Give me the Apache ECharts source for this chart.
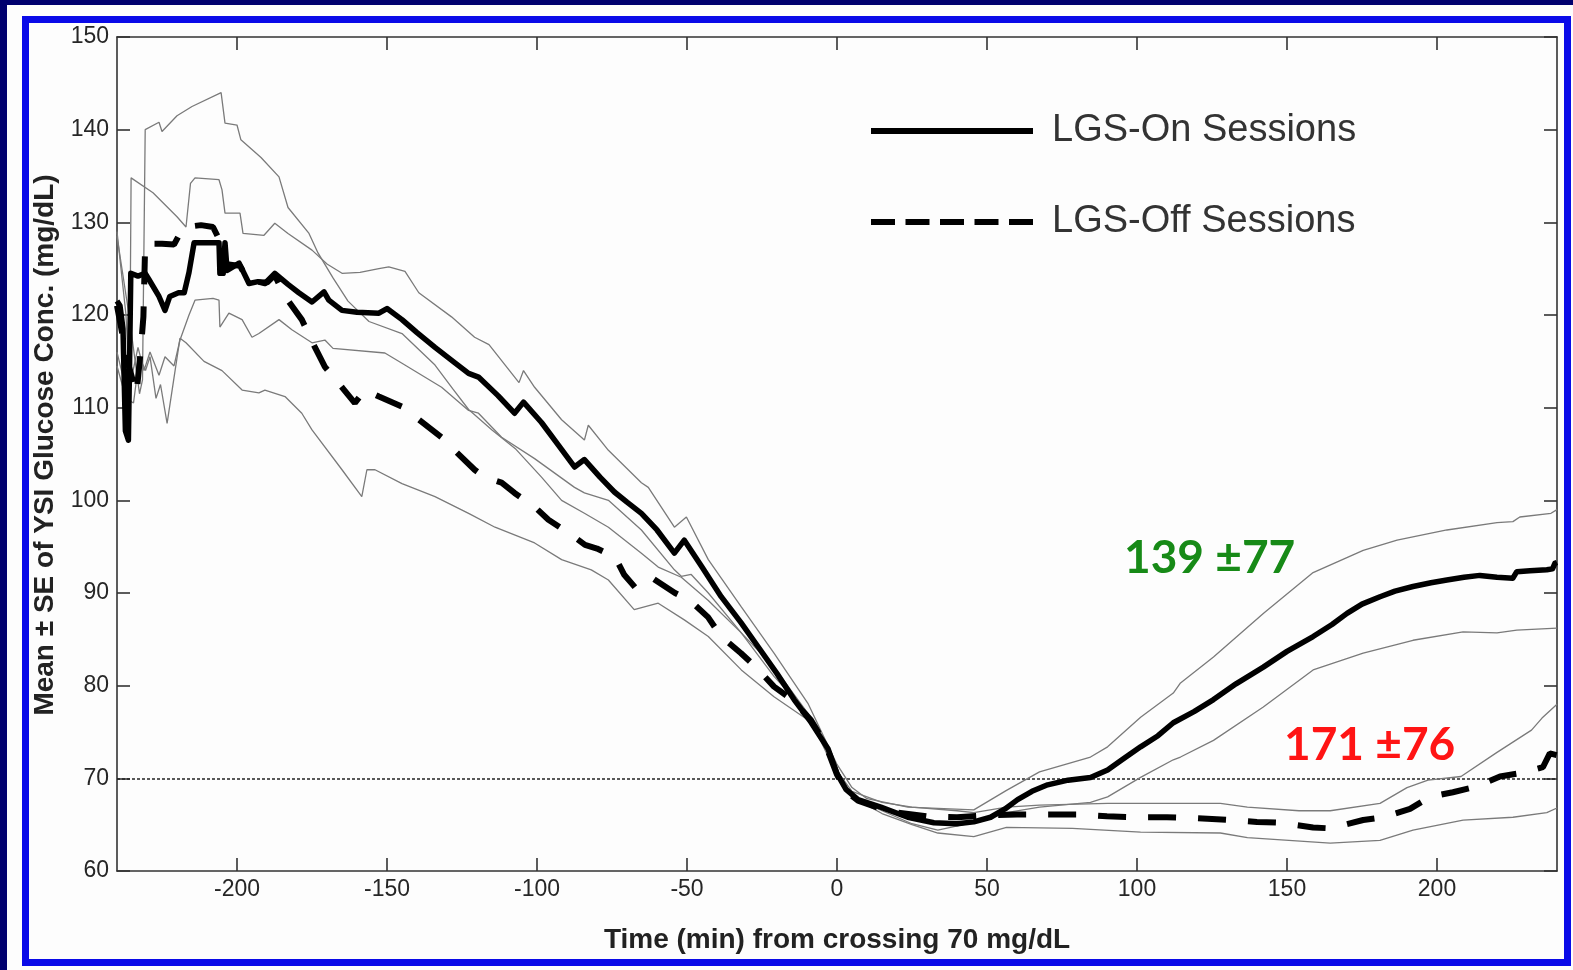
<!DOCTYPE html>
<html>
<head>
<meta charset="utf-8">
<script src="https://cdn.jsdelivr.net/npm/echarts@6/dist/echarts.min.js"></script>
<style>
  html,body{margin:0;padding:0;width:1573px;height:970px;overflow:hidden;background:#00006e;}
  #paper{position:absolute;left:7px;top:5px;right:0;bottom:0;background:#fdfdfd;}
  #frame{position:absolute;left:22px;top:16px;width:1549px;height:950px;box-sizing:border-box;border:7px solid #0a0ae8;}
  #chart{position:absolute;left:0;top:0;width:1573px;height:970px;}
</style>
</head>
<body>
<div id="paper"></div>
<div id="frame"></div>
<div id="chart"></div>
<script>
// ---------- data (time in min, glucose in mg/dL) ----------
const xTickValues = [-200, -150, -100, -50, 0, 50, 100, 150, 200];
const yTickValues = [60, 70, 80, 90, 100, 110, 120, 130, 140, 150];
const seriesNames = ['LGS-On Sessions', 'LGS-Off Sessions'];
const thresholdValue = 70;
const annotationOn = '139 ±77';
const annotationOff = '171 ±76';

const onMean = [
[-240,121.5],[-239,121],[-238,118.5],[-237.2,107.5],[-236.2,106.5],[-235.8,115],[-235.4,124.5],[-233,124.2],[-230.6,124.5],[-229.3,123.8],[-226,122],[-224,120.5],[-222.4,122],[-219.5,122.4],[-217.6,122.4],[-216,124.6],[-214.3,127.8],[-208.3,127.8],[-206,127.8],[-205.7,124.5],[-204.6,124.5],[-204,127.8],[-203.3,124.8],[-199.3,125.6],[-196,123.4],[-193,123.6],[-190.7,123.4],[-187.4,124.5],[-183,123.3],[-179.4,122.4],[-175,121.4],[-171,122.5],[-169.4,121.6],[-165,120.5],[-160,120.3],[-152.7,120.2],[-150,120.7],[-145,119.5],[-140,118.1],[-134,116.5],[-128,115],[-122.8,113.7],[-119.5,113.3],[-113,111.3],[-107.5,109.4],[-104.5,110.6],[-98.5,108.4],[-93,106],[-87.5,103.6],[-84.2,104.4],[-79,102.5],[-74.2,100.9],[-70,99.8],[-65.2,98.6],[-60,96.8],[-54.2,94.3],[-50.9,95.7],[-45,92.8],[-38.6,89.6],[-32,86.8],[-26.3,84.2],[-20,81.3],[-14.3,78.5],[-9,76.2],[-3,73.2],[0,70.5],[3,68.8],[7,67.7],[14.6,66.9],[23.6,65.8],[32.3,65.2],[40,65.1],[45.6,65.3],[51.2,65.8],[56,66.7],[60.2,67.7],[65,68.6],[70.2,69.3],[77,69.8],[84.5,70.1],[90.2,70.9],[95,72],[101.2,73.4],[107,74.6],[112.1,76],[119,77.2],[125.5,78.5],[133,80.2],[142.1,82],[150,83.7],[158.7,85.3],[165,86.6],[170,87.8],[175,88.8],[181,89.6],[186,90.2],[192,90.7],[198,91.1],[203.3,91.4],[209,91.7],[214.3,91.9],[220,91.7],[225.3,91.6],[226.6,92.3],[231,92.4],[236.6,92.5],[238.5,92.6],[239.3,93.2],[240,93.3]
];

const offMean = [
[-240,121],[-236.5,115],[-233.5,111.5],[-232,116.5],[-231.2,119.8],[-230.6,127.7],[-225,127.7],[-221,127.6],[-219.5,128.5],[-217,129.5],[-212,129.7],[-208,129.5],[-206,128.2],[-204,125.5],[-199,125.3],[-196,123.6],[-190,123.5],[-187.4,124.3],[-184,122],[-178.4,119.5],[-174,116.5],[-170.7,114.4],[-165,112.2],[-160.7,110.5],[-157.4,111.9],[-152.7,111.2],[-145,110.1],[-139.4,108.7],[-131.8,106.8],[-127.5,105.4],[-120.8,103.3],[-117.5,102.5],[-111.8,101.9],[-107.5,100.8],[-100.8,99.3],[-96.2,97.9],[-89.5,96.5],[-84,95.2],[-80,94.8],[-74,93.9],[-71,92],[-67,90.5],[-61,91.5],[-54,90],[-49,89.2],[-43,87.4],[-38.6,85.3],[-32,83.5],[-27,82],[-21,79.9],[-15,78.5],[-8.7,76.3],[-4,73.8],[0,70.4],[3,68.6],[7,67.6],[14,66.8],[20,66.3],[30,65.9],[40,65.8],[50,66],[60,66.1],[70,66.1],[80,66.1],[90,65.9],[100,65.8],[110,65.8],[120,65.7],[131,65.5],[140,65.3],[148,65.2],[158.7,64.7],[164.4,64.6],[175.4,65.5],[182,65.8],[191,66.7],[197.7,68],[205.3,68.5],[213,69.1],[221,70.2],[228.6,70.6],[235.3,71.2],[237.6,72.7],[240,72.5]
];

const onUpper = [
[-240,129],[-237,120],[-235.8,112],[-235.3,134.8],[-228,133.2],[-220,130.6],[-217,129.5],[-215.5,134.2],[-214,134.8],[-206,134.6],[-205,133.5],[-204,131],[-199,131],[-198,128.8],[-191,128.6],[-187.4,129.9],[-183,128.8],[-175,127],[-170,125.5],[-165,124.5],[-159,124.6],[-152.7,125],[-149.4,125.2],[-144,124.7],[-139.4,122.4],[-128.5,119.8],[-120.8,117.6],[-116,116.8],[-106,112.7],[-104.5,114],[-100.8,112.2],[-91.8,108.7],[-84.2,106.5],[-82.9,108.1],[-76.2,105.4],[-65.2,101.9],[-62.9,101.4],[-54.2,97.1],[-50.2,98.2],[-42.9,93.6],[-31.9,88.5],[-21,83.5],[-9.7,78.1],[0,71.5],[5,69],[10,67.8],[23.6,66.9],[45.6,66.6],[56.5,68.7],[67.5,70.7],[84.5,72.3],[90.2,73.4],[101.2,76.6],[112.1,79.2],[114.5,80.3],[125.5,83.1],[142.1,87.8],[158.7,92.2],[175.4,94.6],[186.7,95.7],[203.3,96.8],[220,97.6],[225.3,97.7],[227.6,98.2],[238,98.6],[240,99]
];

const onLower = [
[-240,116],[-237,112],[-236,110.5],[-235.3,113],[-233,116.5],[-231,114],[-229,116],[-226,113.5],[-224,115.5],[-221,114.5],[-219,117.3],[-216,120],[-214,121.6],[-208,121.8],[-206,121.6],[-205.7,118.7],[-202.7,120.2],[-198.3,119.5],[-195,117.6],[-192.7,118],[-186,119.5],[-181.7,118.4],[-175,117],[-170.7,117.3],[-168,116.4],[-150.7,115.9],[-145,114.8],[-131.8,112.2],[-122.8,109.7],[-119.5,109.4],[-111.8,106.8],[-100.8,104.5],[-87.5,101.4],[-84.2,100.8],[-76.2,100],[-65.2,96.8],[-54.2,92.5],[-51.9,91.8],[-48.6,92],[-42.9,90],[-31.9,85.7],[-21,82],[-9.7,77],[0,70.3],[5,68],[15,66.5],[25,65.1],[33.6,64.4],[49,65.5],[56.5,66.3],[67.5,66.9],[84.5,67.4],[90.2,68],[101.2,70.1],[112.1,72],[114.5,72.3],[125.5,74.1],[142.1,77.7],[158.7,81.7],[175.4,83.5],[192,84.9],[208.7,85.8],[220,85.7],[226.6,86],[240,86.2]
];

const offUpper = [
[-240,128.5],[-236,120],[-232.5,111.5],[-231.5,113],[-230.6,140],[-226,140.8],[-225,139.8],[-220,141.5],[-215,142.5],[-205.3,144],[-204,140.7],[-200,140.5],[-198.7,138.9],[-192,137],[-186,134.9],[-183,131.6],[-176,128.8],[-173,126.7],[-168,124],[-163,121.5],[-156,119.3],[-145,118],[-134,114.6],[-128,112],[-122.8,109.8],[-115,107.6],[-107,105.5],[-98.5,102.5],[-91.8,100],[-84.2,98.6],[-76.2,97.1],[-65.2,94.3],[-59.6,92.8],[-51.9,91.7],[-42.9,89.2],[-31.9,85.7],[-21,81],[-9.7,77],[-4,74],[0,70.8],[5,68.6],[15,67.4],[25,66.9],[40,66.5],[45.6,66.3],[56.5,66.9],[67.5,67.1],[90.2,67.3],[127.8,67.3],[136.8,66.9],[154,66.5],[164.4,66.5],[181,67.3],[190,69],[197,69.8],[208,70.2],[220,72.8],[231.5,75.2],[235,76.5],[240,78]
];

const offLower = [
[-240,114.5],[-237,111],[-234.5,110.5],[-232.5,115.5],[-230.5,114],[-229,115.5],[-227,111],[-225.5,112.5],[-223.3,108.3],[-219,117.5],[-217,117],[-211,115],[-205,114],[-198.3,111.9],[-192.7,111.6],[-190.7,111.9],[-184,111.2],[-178.4,109.4],[-175,107.6],[-165,103.3],[-158.4,100.4],[-156.7,103.3],[-154,103.3],[-145,101.8],[-134,100.4],[-122.8,98.6],[-114,97.1],[-100.8,95.4],[-91.8,93.6],[-81.9,92.5],[-76.2,91.4],[-67.6,88.2],[-59.6,88.9],[-50.9,87.1],[-42.9,85.3],[-31.9,81.7],[-21,78.8],[-9.7,76.3],[-4,73.4],[0,70.1],[5,68],[15,66.2],[25,65],[33.6,64.1],[45.6,63.7],[56.5,64.7],[78.5,64.6],[101.2,64.2],[127.8,64.1],[136.8,63.6],[164.4,63],[181,63.3],[192,64.4],[208.7,65.5],[225.3,65.8],[236.6,66.3],[240,66.8]
];

// ---------- chart ----------
const chart = echarts.init(document.getElementById('chart'), null, {renderer: 'canvas'});
const FONT = 'Liberation Sans, Arial, Helvetica, sans-serif';
const AXIS_COLOR = '#333';
const DASH_ICON = 'path://M0,0h24v6h-24z M34.5,0h24v6h-24z M69,0h24v6h-24z M103.5,0h24v6h-24z M138,0h24v6h-24z';

function seLine(name, data) {
  return {
    name: name, type: 'line', data: data, symbol: 'none', silent: true,
    lineStyle: {color: '#7a7a7a', width: 1.3}, z: 2, animation: false
  };
}

const option = {
  animation: false,
  backgroundColor: 'transparent',
  grid: {left: 117, right: 16, top: 37, bottom: 99, containLabel: false},
  xAxis: [{
    type: 'value', min: -240, max: 240, position: 'bottom',
    axisLine: {show: true, onZero: false, lineStyle: {color: AXIS_COLOR, width: 1.6}},
    axisTick: {show: true, inside: true, length: 13, customValues: xTickValues, lineStyle: {color: AXIS_COLOR, width: 1.6}},
    axisLabel: {show: true, customValues: xTickValues, color: '#262626', fontSize: 23, fontFamily: FONT, margin: 7},
    splitLine: {show: false},
    name: 'Time (min) from crossing 70 mg/dL', nameLocation: 'middle', nameGap: 55,
    nameTextStyle: {fontSize: 28, fontWeight: 'bold', color: '#222', fontFamily: FONT}
  }, {
    type: 'value', min: -240, max: 240, position: 'top',
    axisLine: {show: true, onZero: false, lineStyle: {color: AXIS_COLOR, width: 1.6}},
    axisTick: {show: true, inside: true, length: 13, customValues: xTickValues, lineStyle: {color: AXIS_COLOR, width: 1.6}},
    axisLabel: {show: false},
    splitLine: {show: false}
  }],
  yAxis: [{
    type: 'value', min: 60, max: 150, interval: 10, position: 'left',
    axisLine: {show: true, onZero: false, lineStyle: {color: AXIS_COLOR, width: 1.6}},
    axisTick: {show: true, inside: true, length: 13, lineStyle: {color: AXIS_COLOR, width: 1.6}},
    axisLabel: {show: true, color: '#262626', fontSize: 23, fontFamily: FONT, margin: 8},
    splitLine: {show: false},
    name: 'Mean \u00b1 SE of YSI Glucose Conc. (mg/dL)', nameLocation: 'middle', nameGap: 58,
    nameTextStyle: {fontSize: 28, fontWeight: 'bold', color: '#222', fontFamily: FONT, padding: [0, 0, 0, 18]}
  }, {
    type: 'value', min: 60, max: 150, interval: 10, position: 'right',
    axisLine: {show: true, onZero: false, lineStyle: {color: AXIS_COLOR, width: 1.6}},
    axisTick: {show: true, inside: true, length: 13, lineStyle: {color: AXIS_COLOR, width: 1.6}},
    axisLabel: {show: false},
    splitLine: {show: false}
  }],
  legend: {
    show: true, orient: 'vertical', left: 866, top: 107, itemGap: 53,
    itemWidth: 162, itemHeight: 6, symbolKeepAspect: false,
    textStyle: {fontSize: 38, color: '#333', fontFamily: FONT, padding: [0, 0, 0, 14]},
    data: [
      {name: seriesNames[0], icon: 'rect', itemStyle: {color: '#000', borderWidth: 0}},
      {name: seriesNames[1], icon: DASH_ICON, itemStyle: {color: '#000', borderWidth: 0}}
    ]
  },
  series: [
    seLine('On upper SE', onUpper),
    seLine('On lower SE', onLower),
    seLine('Off upper SE', offUpper),
    seLine('Off lower SE', offLower),
    {
      name: seriesNames[1], type: 'line', data: offMean, symbol: 'none', z: 4,
      lineStyle: {color: '#000', width: 6, type: [28, 22], cap: 'butt'},
      itemStyle: {color: '#000'}
    },
    {
      name: seriesNames[0], type: 'line', data: onMean, symbol: 'none', z: 5,
      lineStyle: {color: '#000', width: 5.5, join: 'round'},
      itemStyle: {color: '#000'},
      markLine: {
        silent: true, symbol: 'none', label: {show: false}, z: 1,
        lineStyle: {color: '#222', width: 1.6, type: [3, 2]},
        data: [{yAxis: thresholdValue}]
      }
    }
  ],
  graphic: [
    {type: 'text', left: 1124, top: 535, z: 10,
     style: {text: annotationOn, font: 'bold 46px Lato, sans-serif', fill: '#178a17'}},
    {type: 'text', left: 1284, top: 722, z: 10,
     style: {text: annotationOff, font: 'bold 46px Lato, sans-serif', fill: '#ff1414'}}
  ]
};
chart.setOption(option);
</script>
</body>
</html>
